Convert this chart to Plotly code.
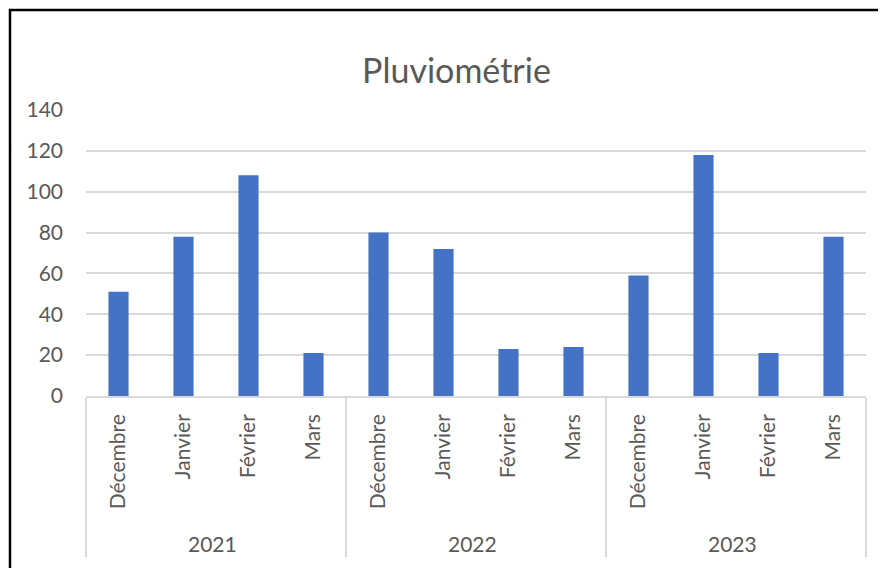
import plotly.graph_objects as go

years = ["2021"] * 4 + ["2022"] * 4 + ["2023"] * 4
months = ["Décembre", "Janvier", "Février", "Mars"] * 3
values = [51, 78, 108, 21, 80, 72, 23, 24, 59, 118, 21, 78]

FONT = "Lato"
TXT = "#595959"
GRID = "#D9D9D9"

# page has an 8px body offset; figure size/margins compensate
W, H = 878, 560
ML, MT, PW, PH = 78, 102, 780, 286

# leading non-breaking spaces push the year row a little lower (labels are end-anchored)
PAD = "\u00a0" * 2
month_labels = [PAD + m for m in months]

fig = go.Figure(
    go.Bar(
        x=[years, month_labels],
        y=values,
        marker=dict(color="#4472C4", line=dict(width=0)),
        width=0.31,
    )
)

fig.update_layout(
    width=W,
    height=H,
    margin=dict(l=ML, r=W - ML - PW, t=MT, b=H - MT - PH, pad=0),
    paper_bgcolor="white",
    plot_bgcolor="white",
    font=dict(family=FONT, color=TXT, size=21),
    title=dict(
        text="Pluviométrie",
        x=448.5 / W,
        xanchor="center",
        y=1 - 63 / H,
        yanchor="middle",
        font=dict(family=FONT, size=34, color=TXT),
    ),
    showlegend=False,
)

fig.update_yaxes(
    range=[0, 140],
    dtick=20,
    showgrid=True,
    gridcolor=GRID,
    gridwidth=1.5,
    zeroline=False,
    showline=False,
    ticks="",
    ticklabelstandoff=22,
    tickfont=dict(size=21, color=TXT),
    automargin=False,
)

fig.update_xaxes(
    type="multicategory",
    showline=True,
    linecolor=GRID,
    linewidth=1.5,
    showdividers=True,
    dividercolor=GRID,
    dividerwidth=1.5,
    tickangle=-90,
    ticks="",
    ticklabelstandoff=8,
    tickfont=dict(size=21, color=TXT),
    automargin=False,
)

# outer chart border (black frame, clipped at right/bottom)
fig.add_shape(
    type="rect",
    xref="paper",
    yref="paper",
    x0=(2 - ML) / PW,
    x1=1.3,
    y0=-1.0,
    y1=1 + (MT - 2) / PH,
    line=dict(color="black", width=2.5),
    fillcolor="rgba(0,0,0,0)",
    layer="below",
)

fig.write_html("out.html")
